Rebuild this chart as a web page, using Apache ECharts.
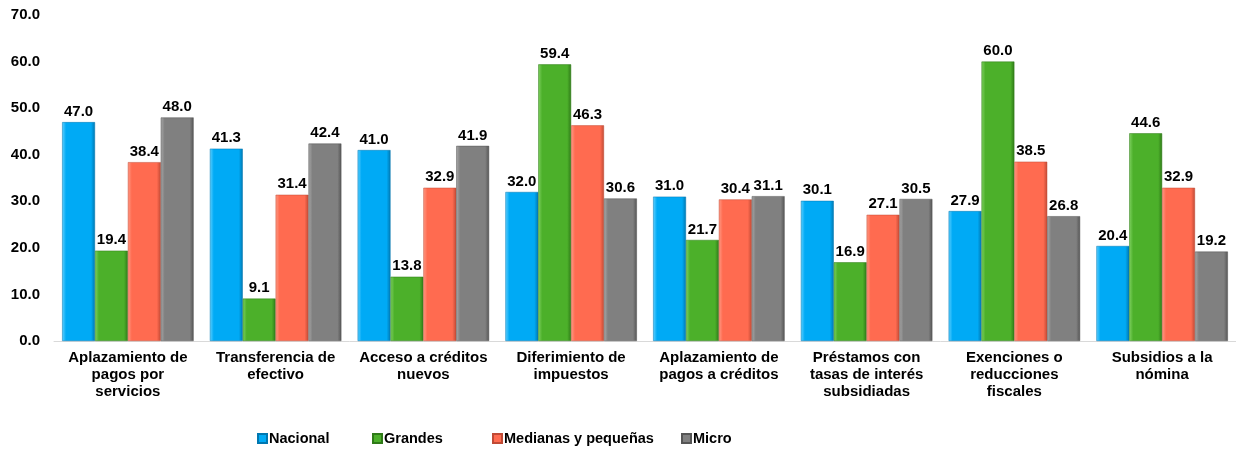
<!DOCTYPE html>
<html>
<head>
<meta charset="utf-8">
<script src="https://cdn.jsdelivr.net/npm/echarts@6/dist/echarts.min.js"></script>
<style>
  html, body { margin: 0; padding: 0; background: #fff; }
  #chart { width: 1236px; height: 454px; }
</style>
</head>
<body>
<div id="chart"></div>
<script>
// categorías (con el corte de línea del original)
const categorias = [
  'Aplazamiento de\npagos por\nservicios',
  'Transferencia de\nefectivo',
  'Acceso a créditos\nnuevos',
  'Diferimiento de\nimpuestos',
  'Aplazamiento de\npagos a créditos',
  'Préstamos con\ntasas de interés\nsubsidiadas',
  'Exenciones o\nreducciones\nfiscales',
  'Subsidios a la\nnómina'
]
const series_nombres = ['Nacional', 'Grandes', 'Medianas y pequeñas', 'Micro']
const nacional = [47.0, 41.3, 41.0, 32.0, 31.0, 30.1, 27.9, 20.4]
const grandes = [19.4, 9.1, 13.8, 59.4, 21.7, 16.9, 60.0, 44.6]
const medianas = [38.4, 31.4, 32.9, 46.3, 30.4, 27.1, 38.5, 32.9]
const micro = [48.0, 42.4, 41.9, 30.6, 31.1, 30.5, 26.8, 19.2]
const yTicks = [0, 10, 20, 30, 40, 50, 60, 70]

const font = 'Liberation Sans, Arial, sans-serif'

// relleno con un poco de relieve como en el original
function relleno(claro, base, oscuro) {
  return new echarts.graphic.LinearGradient(0, 0, 1, 0, [
    { offset: 0, color: claro },
    { offset: 0.12, color: base },
    { offset: 0.88, color: base },
    { offset: 1, color: oscuro }
  ])
}

function serie(name, data, claro, base, oscuro) {
  return {
    name: name,
    type: 'bar',
    data: data,
    barGap: '0%',
    barCategoryGap: '11%',
    itemStyle: { color: relleno(claro, base, oscuro), borderColor: oscuro, borderWidth: 0.5 },
    label: {
      show: true,
      position: 'top',
      distance: 3,
      formatter: p => p.value.toFixed(1),
      color: '#000',
      fontFamily: font,
      fontWeight: 'bold',
      fontSize: 15,
      backgroundColor: '#fff',
      padding: [1, 1, 0, 1]
    }
  }
}

// una leyenda por serie para fijar su posición como en el original
const leyendaX = [257, 372, 492, 681]
const leyendas = series_nombres.map((n, i) => ({
  left: leyendaX[i],
  top: 431,
  padding: 0,
  itemWidth: 9,
  itemHeight: 9,
  icon: 'rect',
  textStyle: { color: '#000', fontFamily: font, fontWeight: 'bold', fontSize: 14.5, padding: [0, 0, 0, -3] },
  data: [n]
}))

const chart = echarts.init(document.getElementById('chart'))
chart.setOption({
  animation: false,
  textStyle: { fontFamily: font },
  grid: { left: 54, right: 0, top: 15, bottom: 113, containLabel: false },
  legend: leyendas,
  xAxis: {
    type: 'category',
    data: categorias,
    axisLine: { lineStyle: { color: '#d9d9d9', width: 1 } },
    axisTick: { show: false },
    axisLabel: {
      color: '#000',
      fontFamily: font,
      fontWeight: 'bold',
      fontSize: 15,
      lineHeight: 17,
      margin: 8,
      interval: 0
    }
  },
  yAxis: {
    type: 'value',
    min: yTicks[0],
    max: yTicks[yTicks.length - 1],
    interval: 10,
    splitLine: { show: false },
    axisLine: { show: false },
    axisTick: { show: false },
    axisLabel: {
      color: '#000',
      fontFamily: font,
      fontWeight: 'bold',
      fontSize: 15,
      margin: 14,
      formatter: v => v.toFixed(1)
    }
  },
  series: [
    serie(series_nombres[0], nacional, '#5fd0ff', '#00aaf5', '#0077b0'),
    serie(series_nombres[1], grandes, '#7fd060', '#4cb02a', '#2f7a18'),
    serie(series_nombres[2], medianas, '#ff9a85', '#ff6b50', '#c04a35'),
    serie(series_nombres[3], micro, '#a8a8a8', '#808080', '#555555')
  ]
})
</script>
</body>
</html>
